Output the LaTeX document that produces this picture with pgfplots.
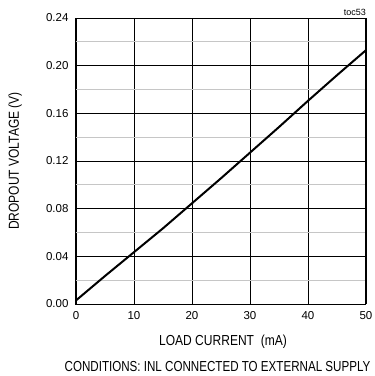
\documentclass[border=0pt]{standalone}
\usepackage{pgfplots}
\pgfplotsset{compat=1.18}
\usepackage{fontspec}
\setmainfont{Liberation Sans}
\begin{document}
\begin{tikzpicture}
\path[use as bounding box] (-76pt,-72pt) rectangle (299pt,304pt);
\begin{axis}[
  at={(0,0)}, anchor=south west,
  scale only axis, width=290pt, height=286pt,
  xmin=0, xmax=50, ymin=0, ymax=0.24,
  xtick={0,10,...,50},
  ytick={0,0.04,...,0.24},
  minor ytick={0.02,0.06,...,0.22},
  grid=both,
  major grid style={black, line width=0.8pt},
  minor grid style={gray!45, line width=0.8pt},
  axis line style={black, line width=1pt},
  major tick length=0pt, minor tick length=0pt,
  /pgf/number format/assume math mode=true,
  yticklabel style={/pgf/number format/fixed, /pgf/number format/fixed zerofill, /pgf/number format/precision=2, xshift=-4pt},
  scaled y ticks=false,
  tick label style={font=\fontsize{11.5}{12}\selectfont},
  xticklabel style={yshift=-4pt},
  clip=false,
]
\addplot[black, line width=2pt, line join=round] coordinates {
 (0,0.003) (5,0.0235) (10,0.0435) (15,0.0635) (20,0.0845) (25,0.1055)
 (30,0.127) (35,0.1485) (40,0.1705) (45,0.192) (50,0.213)
};
\end{axis}
\node[font=\fontsize{14.5}{15}\selectfont, xscale=0.83] at (147pt,-38pt) {LOAD CURRENT\ \ (mA)};
\node[font=\fontsize{14.5}{15}\selectfont, xscale=0.80] at (141.5pt,-63pt) {CONDITIONS:\ INL CONNECTED TO EXTERNAL SUPPLY};
\node[font=\fontsize{14.5}{15}\selectfont, rotate=90, xscale=0.83] at (-61pt,143pt) {DROPOUT VOLTAGE (V)};
\node[font=\fontsize{9}{10}\selectfont, anchor=south east, inner sep=0pt] at (290pt,288pt) {toc53};
\end{tikzpicture}
\end{document}
